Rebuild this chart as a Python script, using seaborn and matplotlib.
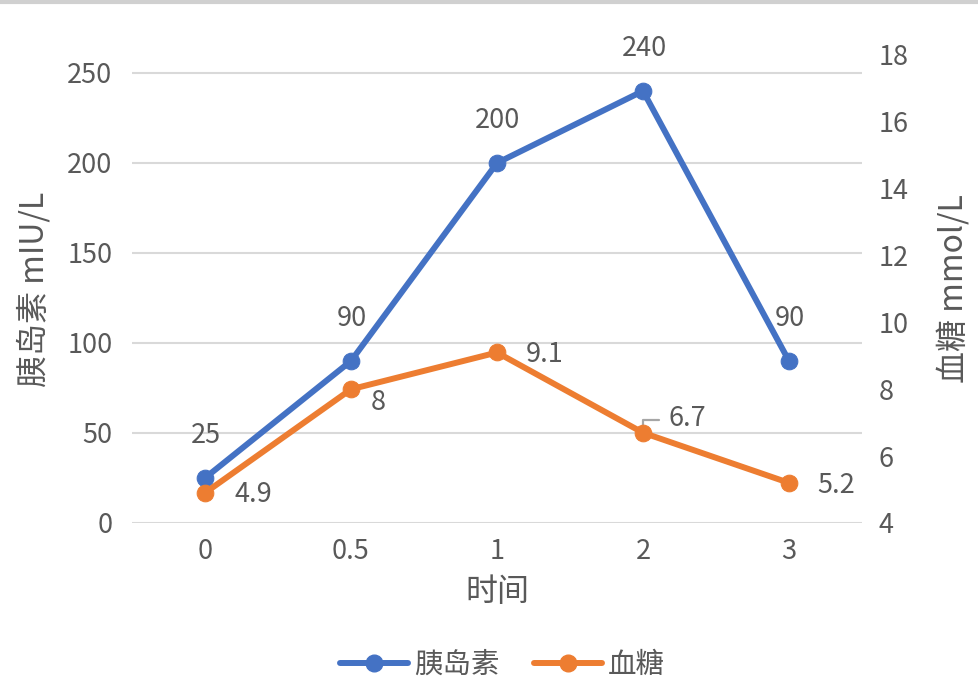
import numpy as np
import matplotlib
matplotlib.use('Agg')
import matplotlib.pyplot as plt
import seaborn as sns
from matplotlib.lines import Line2D

sns.set_style('white')
plt.rcParams['font.family'] = ['Noto Sans CJK SC', 'DejaVu Sans']
plt.rcParams['axes.unicode_minus'] = False

# data
times = ['0', '0.5', '1', '2', '3']
insulin = [25, 90, 200, 240, 90]
glucose = [4.9, 8, 9.1, 6.7, 5.2]

blue = '#4472C4'
orange = '#ED7D31'
grey = '#595959'

fig = plt.figure(figsize=(9.79, 6.95), dpi=100)
ax = fig.add_axes([0.1348, 0.2475, 0.8805 - 0.1348, 0.9209 - 0.2475])
ax2 = ax.twinx()

pos = np.arange(len(times))

sns.lineplot(x=pos, y=insulin, ax=ax, color=blue, marker='o', linewidth=4.3,
             markersize=12, markeredgecolor=blue, zorder=5)
sns.lineplot(x=pos, y=glucose, ax=ax2, color=orange, marker='o', linewidth=4.3,
             markersize=12, markeredgecolor=orange, zorder=5)

ax.set_xlim(-0.5, len(times) - 0.5)
ax.set_ylim(0, 260)
ax.set_yticks(np.arange(0, 251, 50))
ax2.set_ylim(4, 18)
ax2.set_yticks(np.arange(4, 19, 2))
ax.set_xticks(pos)
ax.set_xticklabels(times)

ax.grid(axis='y', color='#D9D9D9', linewidth=1.5)
ax.set_axisbelow(True)
for a in (ax, ax2):
    for s in a.spines.values():
        s.set_visible(False)
    a.tick_params(length=0, labelsize=19.5, colors=grey)
ax.tick_params(axis='x', pad=11)
ax.tick_params(axis='y', pad=14)
ax2.tick_params(axis='y', pad=12)

ax.set_xlabel('时间', fontsize=23, color=grey, labelpad=8)
ax.set_ylabel('胰岛素 mIU/L', fontsize=23, color=grey, labelpad=12)
ax2.set_ylabel('血糖 mmol/L', fontsize=23, color=grey, labelpad=20, rotation=90)

# data labels
for x, v in zip(pos, insulin):
    ax.annotate(str(v), (x, v), xytext=(1, 42), textcoords='offset pixels',
                ha='center', va='center', fontsize=19.5, color=grey)

glu_off = [(48, -2), (27, -13), (48, -2), (44, 14), (47, -3)]
for x, v, (dx, dy) in zip(pos, glucose, glu_off):
    ax2.annotate(f'{v:g}', (x, v), xytext=(dx, dy), textcoords='offset pixels',
                 ha='center', va='center', fontsize=19.5, color=grey)
# leader line for 6.7
ax2.annotate('', (3, 6.7), xytext=(16, 13), textcoords='offset pixels',
             arrowprops=dict(arrowstyle='-', color='#A6A6A6', lw=1.6,
                             shrinkA=0, shrinkB=0,
                             connectionstyle='angle,angleA=0,angleB=90,rad=0'))

# top border line
fig.add_artist(Line2D([0, 1], [0.997, 0.997], color='#D0D0D0', linewidth=3))

handles = [
    Line2D([], [], color=blue, marker='o', linewidth=4.3, markersize=12, label='胰岛素'),
    Line2D([], [], color=orange, marker='o', linewidth=4.3, markersize=12, label='血糖'),
]
fig.legend(handles=handles, loc='center', bbox_to_anchor=(0.513, 0.043), ncol=2,
           frameon=False, fontsize=20.5, labelcolor=grey, handlelength=2.4,
           columnspacing=1.2, handletextpad=0.2)

fig.savefig('out.png', dpi=100)
